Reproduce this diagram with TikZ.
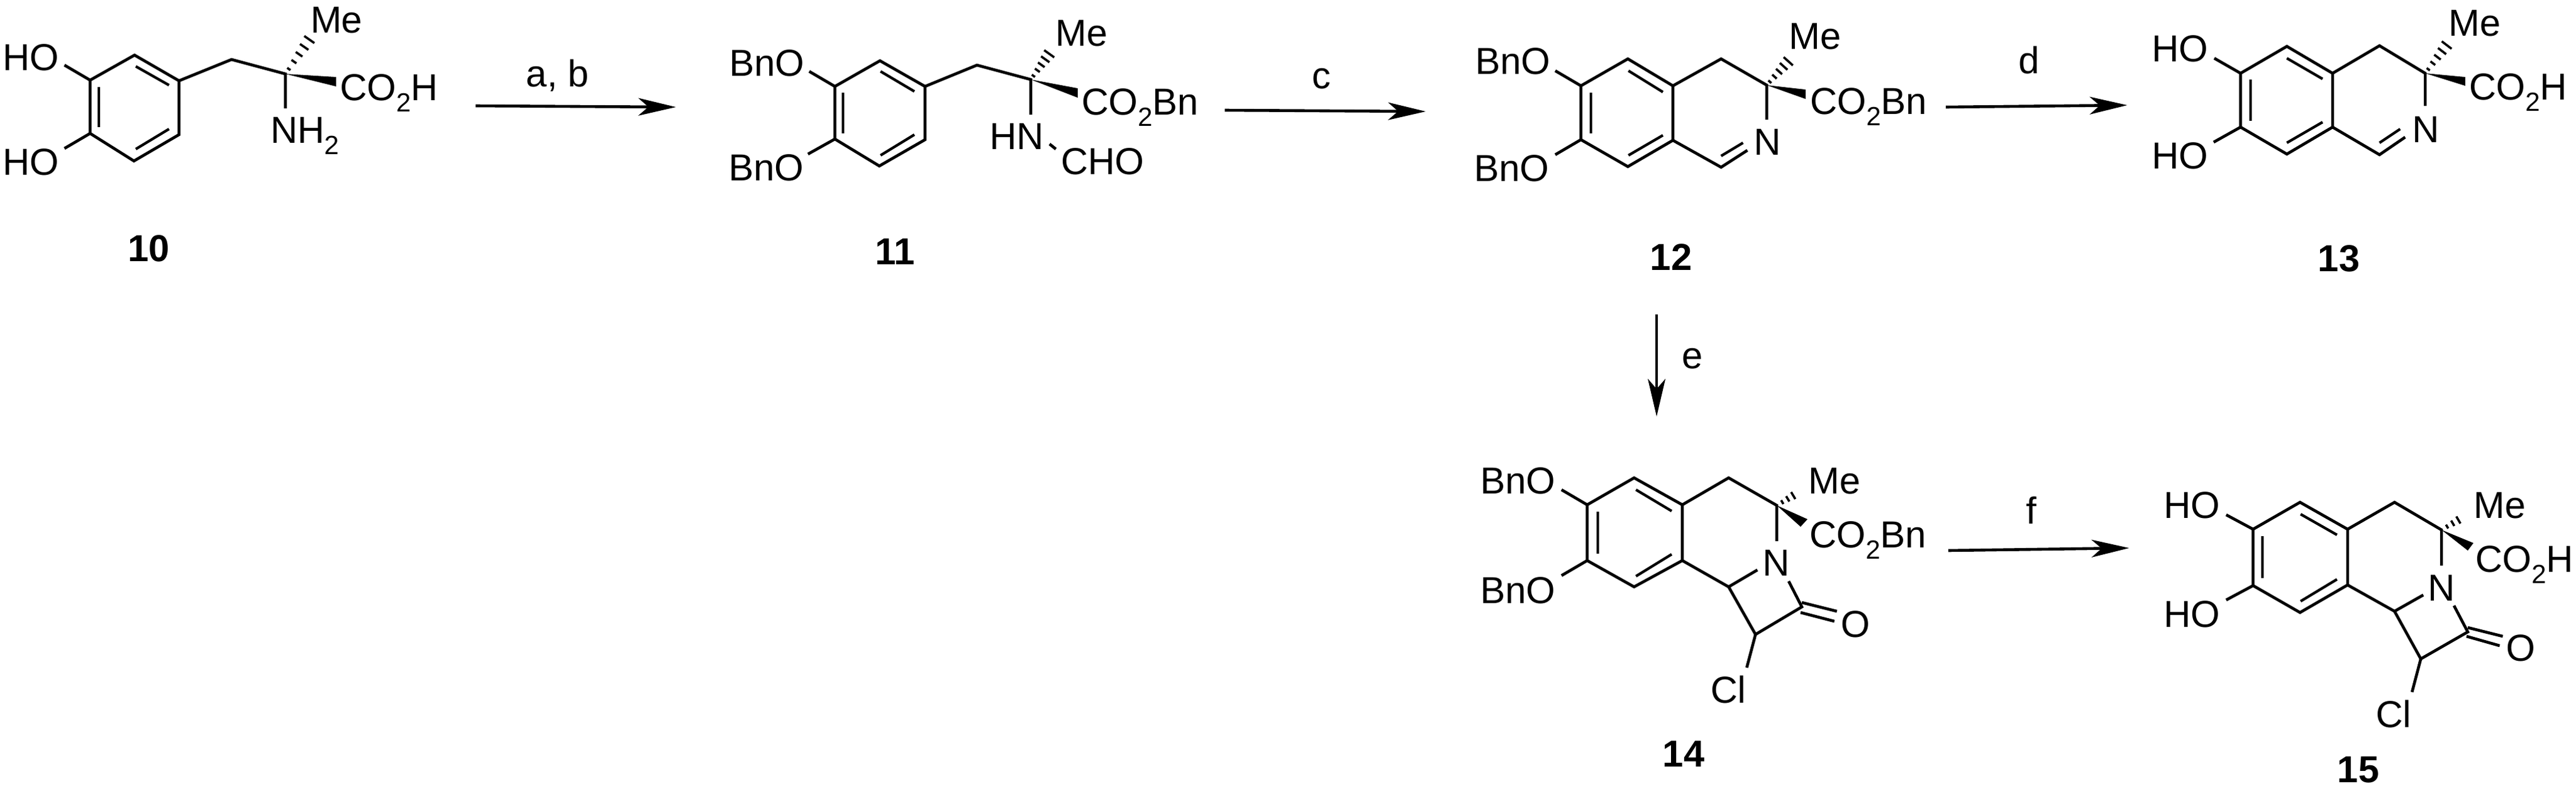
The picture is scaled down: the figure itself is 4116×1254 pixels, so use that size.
\documentclass[tikz,border=0pt]{standalone}
\usepackage{fontspec}
\setmainfont{Liberation Sans}
\usetikzlibrary{calc,arrows.meta}
\newcommand{\subtwo}{\raisebox{-9pt}{\fontsize{21}{21}\selectfont 2}}
\newcommand{\COH}{CO\subtwo H}
\newcommand{\COBn}{CO\subtwo Bn}
\newcommand{\NHtwo}{NH\subtwo}
\newcommand{\hashb}[2]{\foreach \t in {0.14,0.35,0.56,0.77,0.98}{%
  \pgfmathsetmacro{\dd}{(2+8*\t)*0.5}%
  \draw[hashline] ($(#1)!\t!(#2)!\dd pt!90:(#2)$) -- ($(#1)!\t!(#2)!\dd pt!-90:(#2)$);}}
\newcommand{\hashc}[2]{\foreach \t in {0.25,0.5,0.75,1.0}{%
  \pgfmathsetmacro{\dd}{(2+6*\t)*0.5}%
  \draw[hashline] ($(#1)!\t!(#2)!\dd pt!90:(#2)$) -- ($(#1)!\t!(#2)!\dd pt!-90:(#2)$);}}
\tikzset{
  bond/.style={line width=2.3pt,line join=miter,line cap=butt},
  inner bond/.style={line width=2.1pt,line cap=butt},
  hashline/.style={line width=1.8pt,line cap=butt},
  wedge/.style={fill=black,draw=none},
  rxn/.style={line width=2.3pt,-{Stealth[length=30pt,width=14pt,inset=8pt]}},
  lbl/.style={inner sep=0pt,outer sep=0pt,anchor=base west,font=\fontsize{30}{30}\selectfont},
  cond/.style={inner sep=0pt,outer sep=0pt,anchor=base,font=\fontsize{30}{30}\selectfont},
  num/.style={inner sep=0pt,outer sep=0pt,anchor=base,font=\fontsize{30}{30}\selectfont\bfseries}
}
\begin{document}
\begin{tikzpicture}[x=0.5pt,y=-0.5pt]
\useasboundingbox (0,0) rectangle (4116,1254);
\fill[white] (0,0) rectangle (4116,1254);

% ---------- compound 10
\coordinate (a1) at (215,88); \coordinate (a2) at (286,129); \coordinate (a3) at (286,215);
\coordinate (a4) at (214,257); \coordinate (a5) at (144,213); \coordinate (a6) at (144,128);
\coordinate (a7) at (370,95); \coordinate (a8) at (456,118);
\coordinate (aO1) at (103,104); \coordinate (aO2) at (103,237);
\coordinate (aN) at (456,173); \coordinate (aW1) at (537,123); \coordinate (aW2) at (537,138);
\coordinate (aH) at (495,62);
\coordinate (ai1) at (217,106); \coordinate (ai2) at (270,136);
\coordinate (ai3) at (158,139); \coordinate (ai4) at (158,203);
\coordinate (ai5) at (270,206); \coordinate (ai6) at (217,238);
\draw[bond] (a1) -- (a2) -- (a3) -- (a4) -- (a5) -- (a6) -- cycle;
\draw[bond] (a2) -- (a7) -- (a8) -- (aN);
\draw[bond] (a6) -- (aO1); \draw[bond] (a5) -- (aO2);
\draw[inner bond] (ai1) -- (ai2); \draw[inner bond] (ai3) -- (ai4); \draw[inner bond] (ai5) -- (ai6);
\fill[wedge] (a8) -- (aW1) -- (aW2) -- cycle;
\hashb{a8}{aH}
\node[lbl] (aHO1) at (4,112) {HO};
\node[lbl] (aHO2) at (4,279) {HO};
\node[lbl] (aMe) at (496,52) {Me};
\node[lbl] (aCO) at (543,160) {\COH};
\node[lbl] (aNH) at (432,228) {\NHtwo};
\node[num] (n10) at (238,417) {10};

% ---------- compound 11
\coordinate (b1) at (1406,97); \coordinate (b2) at (1478,138); \coordinate (b3) at (1478,223);
\coordinate (b4) at (1405,265); \coordinate (b5) at (1334,222); \coordinate (b6) at (1334,138);
\coordinate (b7) at (1561,104); \coordinate (b8) at (1647,127);
\coordinate (bO1) at (1293,114); \coordinate (bO2) at (1291,246);
\coordinate (bN) at (1647,183); \coordinate (bW1) at (1722,141); \coordinate (bW2) at (1722,156);
\coordinate (bH) at (1677,85); \coordinate (bF1) at (1677,230); \coordinate (bF2) at (1687,238);
\coordinate (bi1) at (1407,114); \coordinate (bi2) at (1461,146);
\coordinate (bi3) at (1347,148); \coordinate (bi4) at (1347,213);
\coordinate (bi5) at (1461,215); \coordinate (bi6) at (1407,248);
\draw[bond] (b1) -- (b2) -- (b3) -- (b4) -- (b5) -- (b6) -- cycle;
\draw[bond] (b2) -- (b7) -- (b8) -- (bN);
\draw[bond] (b6) -- (bO1); \draw[bond] (b5) -- (bO2); \draw[bond] (bF1) -- (bF2);
\draw[inner bond] (bi1) -- (bi2); \draw[inner bond] (bi3) -- (bi4); \draw[inner bond] (bi5) -- (bi6);
\fill[wedge] (b8) -- (bW1) -- (bW2) -- cycle;
\hashb{b8}{bH}
\node[lbl] (bBn1) at (1165,121) {BnO};
\node[lbl] (bBn2) at (1164,288) {BnO};
\node[lbl] (bMe) at (1686,73) {Me};
\node[lbl] (bCO) at (1728,183) {\COBn};
\node[lbl] (bHN) at (1581,238) {HN};
\node[lbl] (bCHO) at (1695,278) {CHO};
\node[num] (n11) at (1430,422) {11};

% ---------- compound 12
\coordinate (c1) at (2601,94); \coordinate (c2) at (2673,137); \coordinate (c3) at (2673,224);
\coordinate (c4) at (2601,266); \coordinate (c5) at (2526,223); \coordinate (c6) at (2526,137);
\coordinate (c7) at (2750,94); \coordinate (c8) at (2823,136); \coordinate (c9) at (2750,267);
\coordinate (cO1) at (2485,113); \coordinate (cO2) at (2485,247);
\coordinate (cN) at (2823,191); \coordinate (cNb) at (2792,240);
\coordinate (cW1) at (2885,143); \coordinate (cW2) at (2885,158); \coordinate (cH) at (2858,97);
\coordinate (ci1) at (2602,113); \coordinate (ci2) at (2657,147);
\coordinate (ci3) at (2542,148); \coordinate (ci4) at (2542,213);
\coordinate (ci5) at (2657,216); \coordinate (ci6) at (2602,248);
\coordinate (ci7) at (2785,228); \coordinate (ci8) at (2750,249);
\draw[bond] (c1) -- (c2) -- (c3) -- (c4) -- (c5) -- (c6) -- cycle;
\draw[bond] (c2) -- (c7) -- (c8) -- (cN);
\draw[bond] (c3) -- (c9) -- (cNb);
\draw[bond] (c6) -- (cO1); \draw[bond] (c5) -- (cO2);
\draw[inner bond] (ci1) -- (ci2); \draw[inner bond] (ci3) -- (ci4); \draw[inner bond] (ci5) -- (ci6); \draw[inner bond] (ci7) -- (ci8);
\fill[wedge] (c8) -- (cW1) -- (cW2) -- cycle;
\hashb{c8}{cH}
\node[lbl] (cBn1) at (2357,118) {BnO};
\node[lbl] (cBn2) at (2355,289) {BnO};
\node[lbl] (cMe) at (2858,78) {Me};
\node[lbl] (cCO) at (2892,182) {\COBn};
\node[lbl] (cNl) at (2802,247) {N};
\node[num] (n12) at (2670,431) {12};

% ---------- compound 13
\coordinate (d1) at (3654,74); \coordinate (d2) at (3727,117); \coordinate (d3) at (3727,203);
\coordinate (d4) at (3654,246); \coordinate (d5) at (3580,203); \coordinate (d6) at (3580,117);
\coordinate (d7) at (3802,73); \coordinate (d8) at (3875,117); \coordinate (d9) at (3802,247);
\coordinate (dO1) at (3538,93); \coordinate (dO2) at (3537,227);
\coordinate (dN) at (3875,169); \coordinate (dNb) at (3843,219);
\coordinate (dW1) at (3939,123); \coordinate (dW2) at (3939,137); \coordinate (dH) at (3910,71);
\coordinate (di1) at (3654,93); \coordinate (di2) at (3711,126);
\coordinate (di3) at (3596,127); \coordinate (di4) at (3596,193);
\coordinate (di5) at (3711,195); \coordinate (di6) at (3654,228);
\coordinate (di7) at (3835,206); \coordinate (di8) at (3802,228);
\draw[bond] (d1) -- (d2) -- (d3) -- (d4) -- (d5) -- (d6) -- cycle;
\draw[bond] (d2) -- (d7) -- (d8) -- (dN);
\draw[bond] (d3) -- (d9) -- (dNb);
\draw[bond] (d6) -- (dO1); \draw[bond] (d5) -- (dO2);
\draw[inner bond] (di1) -- (di2); \draw[inner bond] (di3) -- (di4); \draw[inner bond] (di5) -- (di6); \draw[inner bond] (di7) -- (di8);
\fill[wedge] (d8) -- (dW1) -- (dW2) -- cycle;
\hashb{d8}{dH}
\node[lbl] (dHO1) at (3438,98) {HO};
\node[lbl] (dHO2) at (3438,269) {HO};
\node[lbl] (dMe) at (3912,57) {Me};
\node[lbl] (dCO) at (3945,159) {\COH};
\node[lbl] (dNl) at (3854,227) {N};
\node[num] (n13) at (3737,433) {13};

% ---------- compound 14
\coordinate (e1) at (2611,763); \coordinate (e2) at (2688,806); \coordinate (e3) at (2688,895);
\coordinate (e4) at (2611,937); \coordinate (e5) at (2536,895); \coordinate (e6) at (2536,806);
\coordinate (e7) at (2762,763); \coordinate (e8) at (2839,807); \coordinate (e9) at (2762,937);
\coordinate (eO1) at (2495,782); \coordinate (eO2) at (2495,919);
\coordinate (eN) at (2839,864); \coordinate (eNb) at (2808,910); \coordinate (eNc) at (2858,928);
\coordinate (eCO) at (2879,969); \coordinate (eCCl) at (2805,1013); \coordinate (eCl) at (2791,1066);
\coordinate (eO3) at (2879,962); \coordinate (eO4) at (2935,976);
\coordinate (eO5) at (2877,978); \coordinate (eO6) at (2931,992);
\coordinate (eW1) at (2888,829); \coordinate (eW2) at (2877,841); \coordinate (eH) at (2874,786);
\coordinate (ei1) at (2614,782); \coordinate (ei2) at (2671,816);
\coordinate (ei3) at (2553,817); \coordinate (ei4) at (2553,884);
\coordinate (ei5) at (2671,885); \coordinate (ei6) at (2614,920);
\draw[bond] (e1) -- (e2) -- (e3) -- (e4) -- (e5) -- (e6) -- cycle;
\draw[bond] (e2) -- (e7) -- (e8) -- (eN);
\draw[bond] (e3) -- (e9) -- (eNb);
\draw[bond] (e9) -- (eCCl) -- (eCO) -- (eNc);
\draw[bond] (eCCl) -- (eCl);
\draw[bond] (eO3) -- (eO4); \draw[bond] (eO5) -- (eO6);
\draw[bond] (e6) -- (eO1); \draw[bond] (e5) -- (eO2);
\draw[inner bond] (ei1) -- (ei2); \draw[inner bond] (ei3) -- (ei4); \draw[inner bond] (ei5) -- (ei6);
\fill[wedge] (e8) -- (eW1) -- (eW2) -- cycle;
\hashc{e8}{eH}
\node[lbl] (eBn1) at (2365,788) {BnO};
\node[lbl] (eBn2) at (2365,963) {BnO};
\node[lbl] (eMe) at (2889,788) {Me};
\node[lbl] (eCOl) at (2891,874) {\COBn};
\node[lbl] (eNl) at (2816,919) {N};
\node[lbl] (eOl) at (2941,1017) {O};
\node[lbl] (eCll) at (2733,1122) {Cl};
\node[num] (n14) at (2690,1224) {14};

% ---------- compound 15
\coordinate (f1) at (3675,802); \coordinate (f2) at (3751,845); \coordinate (f3) at (3751,934);
\coordinate (f4) at (3675,978); \coordinate (f5) at (3600,935); \coordinate (f6) at (3600,845);
\coordinate (f7) at (3826,802); \coordinate (f8) at (3901,846); \coordinate (f9) at (3826,976);
\coordinate (fO1) at (3557,822); \coordinate (fO2) at (3557,958);
\coordinate (fN) at (3901,903); \coordinate (fNb) at (3872,950); \coordinate (fNc) at (3921,967);
\coordinate (fCO) at (3943,1009); \coordinate (fCCl) at (3868,1052); \coordinate (fCl) at (3854,1105);
\coordinate (fO3) at (3943,1002); \coordinate (fO4) at (3999,1016);
\coordinate (fO5) at (3941,1016); \coordinate (fO6) at (3994,1031);
\coordinate (fW1) at (3952,867); \coordinate (fW2) at (3943,879); \coordinate (fH) at (3937,825);
\coordinate (fi1) at (3676,821); \coordinate (fi2) at (3734,854);
\coordinate (fi3) at (3615,856); \coordinate (fi4) at (3615,923);
\coordinate (fi5) at (3734,925); \coordinate (fi6) at (3676,960);
\draw[bond] (f1) -- (f2) -- (f3) -- (f4) -- (f5) -- (f6) -- cycle;
\draw[bond] (f2) -- (f7) -- (f8) -- (fN);
\draw[bond] (f3) -- (f9) -- (fNb);
\draw[bond] (f9) -- (fCCl) -- (fCO) -- (fNc);
\draw[bond] (fCCl) -- (fCl);
\draw[bond] (fO3) -- (fO4); \draw[bond] (fO5) -- (fO6);
\draw[bond] (f6) -- (fO1); \draw[bond] (f5) -- (fO2);
\draw[inner bond] (fi1) -- (fi2); \draw[inner bond] (fi3) -- (fi4); \draw[inner bond] (fi5) -- (fi6);
\fill[wedge] (f8) -- (fW1) -- (fW2) -- cycle;
\hashc{f8}{fH}
\node[lbl] (fHO1) at (3457,827) {HO};
\node[lbl] (fHO2) at (3457,1001) {HO};
\node[lbl] (fMe) at (3952,827) {Me};
\node[lbl] (fCOl) at (3955,913) {\COH};
\node[lbl] (fNl) at (3879,959) {N};
\node[lbl] (fOl) at (4004,1055) {O};
\node[lbl] (fCll) at (3796,1161) {Cl};
\node[num] (n15) at (3768,1249) {15};

% ---------- reaction arrows
\coordinate (r1s) at (760,169);  \coordinate (r1e) at (1080,171);
\coordinate (r2s) at (1957,176); \coordinate (r2e) at (2278,178);
\coordinate (r3s) at (3109,171); \coordinate (r3e) at (3399,168);
\coordinate (r4s) at (2647,502); \coordinate (r4e) at (2647,665);
\coordinate (r5s) at (3113,879); \coordinate (r5e) at (3402,875);
\draw[rxn] (r1s) -- (r1e);
\draw[rxn] (r2s) -- (r2e);
\draw[rxn] (r3s) -- (r3e);
\draw[rxn] (r4s) -- (r4e);
\draw[rxn] (r5s) -- (r5e);
\node[cond] (lab) at (891,138) {a, b};
\node[cond] (lc) at (2111,141) {c};
\node[cond] (ld) at (3242,117) {d};
\node[cond] (le) at (2704,588) {e};
\node[cond] (lf) at (3246,836) {f};
\end{tikzpicture}
\end{document}
